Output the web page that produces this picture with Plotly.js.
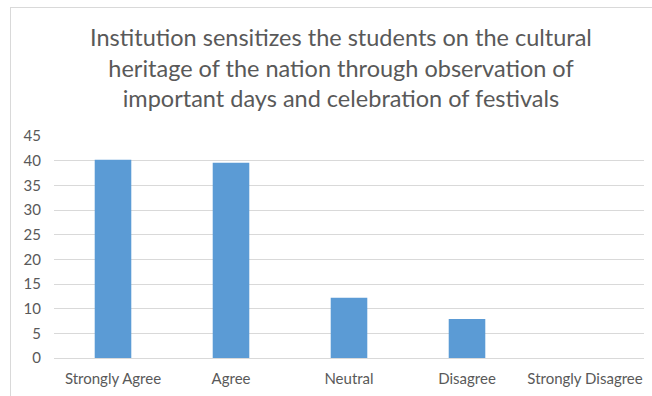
<!DOCTYPE html>
<html>
<head>
<meta charset="utf-8">
<script src="https://cdn.plot.ly/plotly-3.0.1.min.js"></script>
<style>
  html, body { margin: 0; padding: 0; width: 652px; height: 396px; overflow: hidden; background: #fff; }
  #frame { position: absolute; left: 10px; top: 7px; width: 700px; height: 420px; border: 1px solid #d9d9d9; box-sizing: border-box; }
  #chart { position: absolute; left: 0; top: 0; width: 652px; height: 396px; }
</style>
</head>
<body>
<div id="frame"></div>
<div id="chart"></div>
<script>
const categories = ["Strongly Agree", "Agree", "Neutral", "Disagree", "Strongly Disagree"];
const values = [40.2, 39.6, 12.2, 7.9, 0];
const yTicks = [0, 5, 10, 15, 20, 25, 30, 35, 40, 45];

const fontFam = "Lato, 'Open Sans', sans-serif";

const data = [{
  type: "bar",
  x: categories,
  y: values,
  marker: { color: "#5b9bd5" },
  hoverinfo: "x+y"
}];

const layout = {
  width: 652,
  height: 396,
  paper_bgcolor: "rgba(0,0,0,0)",
  plot_bgcolor: "rgba(0,0,0,0)",
  margin: { l: 54, r: 8, t: 136, b: 38 },
  bargap: 0.69,
  showlegend: false,
  title: {
    text: "Institution sensitizes the students on the cultural<br>heritage of the nation through observation of<br>important days and celebration of festivals",
    font: { family: fontFam, size: 23.5, color: "#595959" },
    x: 341 / 652,
    xref: "container",
    xanchor: "center",
    y: 1 - 46 / 396,
    yref: "container",
    yanchor: "top"
  },
  xaxis: {
    type: "category",
    tickfont: { family: fontFam, size: 15, color: "#595959" },
    showgrid: false,
    showline: false,
    ticks: "",
    zeroline: false,
    ticklabelstandoff: 10
  },
  yaxis: {
    range: [0, 45],
    tickvals: yTicks,
    ticktext: yTicks.map(String),
    tickfont: { family: fontFam, size: 15, color: "#595959" },
    showgrid: true,
    gridcolor: "#d9d9d9",
    gridwidth: 1,
    zeroline: true,
    zerolinecolor: "#d9d9d9",
    zerolinewidth: 1,
    showline: false,
    ticks: "",
    ticklabelstandoff: 12
  }
};

Plotly.newPlot("chart", data, layout, { displayModeBar: false, staticPlot: true });
</script>
</body>
</html>
